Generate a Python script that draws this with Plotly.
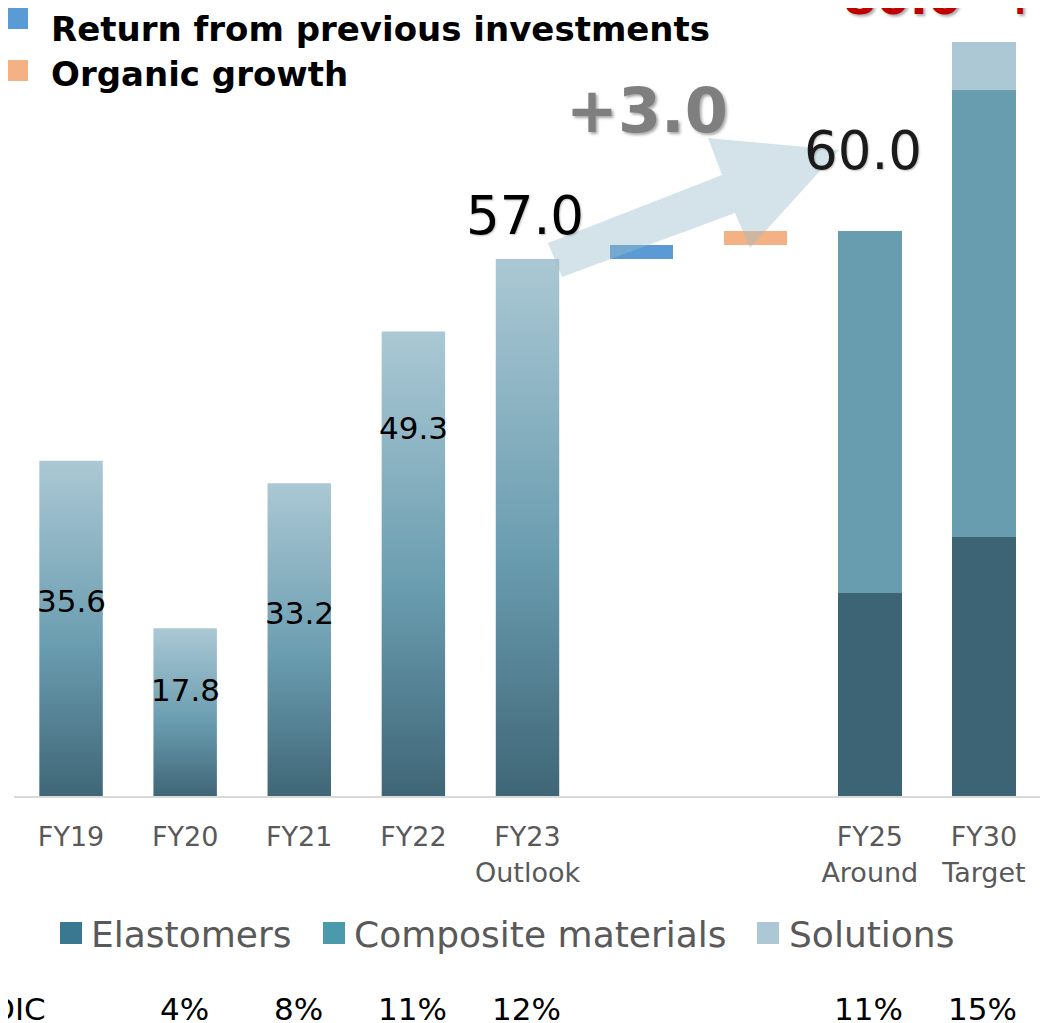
import plotly.graph_objects as go

# ---------------- data ----------------
hist_years = ["FY19", "FY20", "FY21", "FY22", "FY23"]
hist_totals = [35.6, 17.8, 33.2, 49.3, 57.0]

plan_years = ["FY25", "FY30"]
elastomers = [21.5, 27.5]
composite = [38.5, 47.5]
solutions = [0.0, 5.0]
plan_totals = [60.0, 80.0]

bridge_names = ["Return from previous investments", "Organic growth"]
bridge_values = [1.5, 1.5]
bridge_total = 3.0

segment_names = ["Elastomers", "Composite materials", "Solutions"]

tick_labels = ["FY19", "FY20", "FY21", "FY22", "FY23<br>Outlook", "FY25<br>Around", "FY30<br>Target"]
roic_years = ["FY20", "FY21", "FY22", "FY23", "FY25", "FY30"]
roic_labels = ["4%", "8%", "11%", "12%", "11%", "15%"]

# ---------------- layout helpers (positions / styles) ----------------
slot = {"FY19": 0, "FY20": 1, "FY21": 2, "FY22": 3, "FY23": 4,
        "bridge1": 5, "bridge2": 6, "FY25": 7, "FY30": 8}
hist_label_pos = [20.7, 11.25, 19.4, 39.1]   # where the in-bar labels sit
BAR_W = 0.556
OFF = 8                      # page body margin
W, H = 1048, 1023
ML, MT = 6, 0
PW, PH = 1027, 788
MR, MB = W - ML - PW, H - MT - PH
Y_MAX = PH / 9.42
FONT = "DejaVu Sans"

def px_x(px):
    return (px - OFF - ML) / PW

def px_y(py):
    return (MT + PH - (py - OFF)) / PH

def data_y(py):
    return px_y(py) * Y_MAX

def data_x(px):
    return px_x(px) * 9 - 0.5

grad = [[0.0, "#3f6677"], [0.45, "#6a9db0"], [1.0, "#abc8d4"]]
seg_colors = ["#3d6474", "#689caf", "#abc8d4"]
legend_colors = ["#3a7891", "#4b9aab", "#abc8d4"]
bridge_colors = ["#5b9bd5", "#f4b183"]

fig = go.Figure()

# historical bars with vertical gradient
for yr, v in zip(hist_years, hist_totals):
    c = slot[yr]
    x0, x1 = c - BAR_W / 2, c + BAR_W / 2
    fig.add_trace(go.Scatter(
        x=[x0, x1, x1, x0, x0], y=[0, 0, v, v, 0],
        mode="lines", fill="toself",
        fillgradient=dict(type="vertical", colorscale=grad),
        line=dict(width=0), showlegend=False, hoverinfo="skip", name=yr))

# planned stacked bars
plan_x = [slot[y] for y in plan_years]
bases = [0.0] * len(plan_years)
for name, vals, col in zip(segment_names, [elastomers, composite, solutions], seg_colors):
    fig.add_trace(go.Bar(x=plan_x, y=vals, base=bases[:], width=BAR_W, name=name,
                         marker=dict(color=col, line=dict(width=0)), showlegend=False))
    bases = [b + v for b, v in zip(bases, vals)]

# bridge (waterfall) bars
level = hist_totals[-1]
for i, (name, v, col) in enumerate(zip(bridge_names, bridge_values, bridge_colors)):
    fig.add_trace(go.Bar(x=[slot["bridge%d" % (i + 1)]], y=[v], base=[level], width=BAR_W,
                         name=name, marker=dict(color=col, line=dict(width=0)), showlegend=False))
    level += v

ann = []
# in-bar labels
for yr, v, ly in zip(hist_years[:4], hist_totals[:4], hist_label_pos):
    ann.append(dict(x=slot[yr], y=ly, xref="x", yref="y", text=f"{v:.1f}", showarrow=False,
                    font=dict(family=FONT, size=31, color="#000000")))
# FY23 total
ann.append(dict(x=slot["FY23"], y=hist_totals[-1], xref="x", yref="y", text=f"{hist_totals[-1]:.1f}",
                showarrow=False, yanchor="bottom", yshift=11, xshift=-3,
                font=dict(family=FONT, size=53, color="#000000", shadow="1px 1px 2px rgba(0,0,0,0.25)")))
# FY25 total
ann.append(dict(x=slot["FY25"], y=plan_totals[0], xref="x", yref="y", text=f"{plan_totals[0]:.1f}",
                showarrow=False, yanchor="bottom", yshift=48, xshift=-7,
                font=dict(family=FONT, size=53, color="#1a1a1a", shadow="1px 1px 2px rgba(0,0,0,0.25)")))
# +3.0
ann.append(dict(x=data_x(647), y=data_y(149), xref="x", yref="y", text=f"+{bridge_total:.1f}",
                showarrow=False, yanchor="bottom", xanchor="center",
                font=dict(family=FONT, size=62, color="#7f7f7f", weight="bold",
                          shadow="2px 2px 3px rgba(0,0,0,0.35)")))
# FY30 total (cut at top)
ann.append(dict(x=px_x(841), y=px_y(27), xref="paper", yref="paper", text=f"{plan_totals[1]:.1f}",
                showarrow=False, xanchor="left", yanchor="bottom",
                font=dict(family=FONT, size=48, color="#c00000", weight="bold",
                          shadow="2px 2px 3px rgba(0,0,0,0.35)")))
ann.append(dict(x=px_x(1020), y=px_y(27), xref="paper", yref="paper", text="+",
                showarrow=False, xanchor="center", yanchor="bottom",
                font=dict(family=FONT, size=48, color="#c00000", weight="bold",
                          shadow="2px 2px 3px rgba(0,0,0,0.35)")))

shapes = []
# top legend (bridge)
for i, (name, col) in enumerate(zip(bridge_names, bridge_colors)):
    top = [8, 60][i]
    shapes.append(dict(type="rect", xref="paper", yref="paper", x0=px_x(7), x1=px_x(28),
                       y0=px_y(top + 21), y1=px_y(top), fillcolor=col, line=dict(width=0)))
    ann.append(dict(x=px_x(49), y=px_y([51, 96][i]), xref="paper", yref="paper", text=name,
                    showarrow=False, xanchor="left", yanchor="bottom",
                    font=dict(family=FONT, size=34, color="#000000", weight="bold")))

# bottom legend (segments)
for name, col, sq, tx in zip(segment_names, legend_colors, [60, 323, 757], [91, 354, 789]):
    shapes.append(dict(type="rect", xref="paper", yref="paper", x0=px_x(sq), x1=px_x(sq + 22),
                       y0=px_y(944), y1=px_y(922), fillcolor=col, line=dict(width=0)))
    ann.append(dict(x=px_x(tx - 2), y=px_y(957), xref="paper", yref="paper", text=name,
                    showarrow=False, xanchor="left", yanchor="bottom",
                    font=dict(family=FONT, size=36, color="#595959")))

# ROIC row
ann.append(dict(x=px_x(48), y=px_y(989), xref="paper", yref="paper", text="ROIC",
                showarrow=False, xanchor="right", yanchor="top",
                font=dict(family=FONT, size=31, color="#000000")))
for yr, lab in zip(roic_years, roic_labels):
    ann.append(dict(x=slot[yr], y=px_y(989), xref="x", yref="paper", text=lab,
                    showarrow=False, xanchor="center", yanchor="top", xshift=-1,
                    font=dict(family=FONT, size=31, color="#000000")))

# decorative growth arrow from FY23 toward FY25 label
arrow_px = [(548, 243), (722, 175), (708, 138), (839, 150), (750, 248), (735, 213), (562, 277)]
path = "M " + " L ".join(f"{data_x(p[0]):.4f},{data_y(p[1]):.3f}" for p in arrow_px) + " Z"
shapes.append(dict(type="path", xref="x", yref="y", path=path, layer="above",
                   fillcolor="rgba(152,188,203,0.42)", line=dict(width=0)))

fig.update_layout(
    width=W, height=H,
    margin=dict(l=ML, r=MR, t=MT, b=MB, pad=0),
    paper_bgcolor="white", plot_bgcolor="white",
    barmode="overlay", bargap=0,
    showlegend=False,
    annotations=ann, shapes=shapes,
    xaxis=dict(range=[-0.5, 8.5], tickvals=[0, 1, 2, 3, 4, 7, 8], ticktext=tick_labels,
               showgrid=False, zeroline=False, showline=True, linecolor="#d9d9d9", linewidth=2,
               ticks="", ticklabelstandoff=16,
               tickfont=dict(family=FONT, size=27, color="#595959"), fixedrange=True),
    yaxis=dict(range=[0, Y_MAX], visible=False, showgrid=False, zeroline=False, fixedrange=True),
)

fig.write_html("out.html")
